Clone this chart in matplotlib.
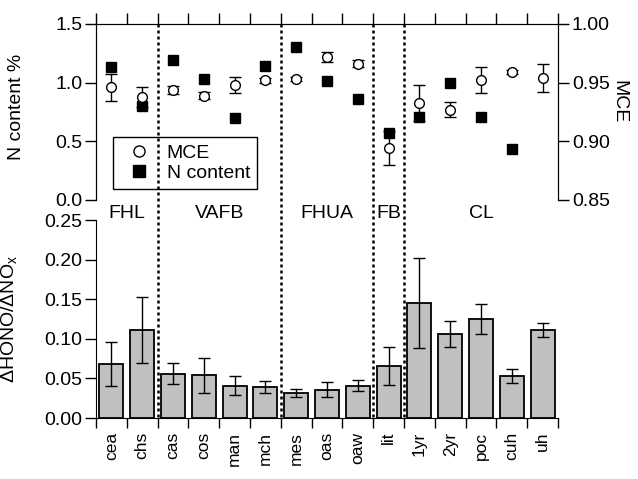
import numpy as np
import matplotlib
matplotlib.use("Agg")
import matplotlib.pyplot as plt
from matplotlib.lines import Line2D
from matplotlib import transforms

plt.rcParams['font.family'] = ['Liberation Sans', 'DejaVu Sans']
plt.rcParams['font.size'] = 14

# burn sites, grouped by location
sites = ['cea', 'chs', 'cas', 'cos', 'man', 'mch', 'mes', 'oas', 'oaw',
         'lit', '1yr', '2yr', 'poc', 'cuh', 'uh']
groups = ['FHL', 'VAFB', 'FHUA', 'FB', 'CL']
group_sizes = [2, 4, 3, 1, 5]

# fuel nitrogen content (%), no value for uh
n_content = [1.13, 0.80, 1.19, 1.03, 0.70, 1.14, 1.30, 1.01, 0.86,
             0.57, 0.71, 1.00, 0.71, 0.435, np.nan]

# modified combustion efficiency
mce = [0.946, 0.938, 0.944, 0.939, 0.948, 0.952, 0.953, 0.972, 0.966,
       0.894, 0.933, 0.927, 0.952, 0.959, 0.954]
mce_err = [0.0114, 0.0085, 0.0035, 0.003, 0.007, 0.002, 0.0015, 0.004, 0.003,
           0.0146, 0.0153, 0.0064, 0.011, 0.002, 0.012]

# HONO / NOx emission ratios
hono_ratio = [0.068, 0.111, 0.056, 0.054, 0.041, 0.039, 0.032, 0.036, 0.041,
              0.066, 0.145, 0.106, 0.125, 0.053, 0.111]
hono_err = [0.028, 0.042, 0.013, 0.022, 0.012, 0.008, 0.005, 0.010, 0.007,
            0.024, 0.057, 0.016, 0.019, 0.009, 0.009]

x = np.arange(len(sites))
bounds = np.arange(len(sites) + 1) - 0.5
group_edges = np.concatenate([[0], np.cumsum(group_sizes)]) - 0.5

fig = plt.figure(figsize=(6.38, 4.79), dpi=100)
ax_n = fig.add_axes([0.1505, 0.5825, 0.7241, 0.3674])
ax_mce = ax_n.twinx()
ax_bar = fig.add_axes([0.1505, 0.1273, 0.7241, 0.4134])

# --- top panel: N content and MCE ---
ax_n.plot(x, n_content, 's', color='black', ms=7, zorder=2)
ax_mce.errorbar(x, mce, yerr=mce_err, fmt='o', mfc='white', mec='black',
                mew=1, ms=7, ecolor='black', elinewidth=1, capsize=4,
                capthick=1, zorder=3)

ax_n.set_xlim(-0.5, len(sites) - 0.5)
ax_n.set_ylim(0, 1.5)
ax_n.set_yticks([0, 0.5, 1.0, 1.5])
ax_n.set_yticklabels(['%.1f' % v for v in [0, 0.5, 1.0, 1.5]])
ax_n.set_ylabel('N content %')
ax_mce.set_ylim(0.85, 1.0)
ax_mce.set_yticks([0.85, 0.90, 0.95, 1.00])
ax_mce.set_yticklabels(['%.2f' % v for v in [0.85, 0.90, 0.95, 1.00]])
ax_mce.set_ylabel('MCE', rotation=270)

for a in (ax_n, ax_mce):
    a.spines['bottom'].set_visible(False)
    a.set_xticks(bounds)
    a.xaxis.set_ticks_position('top')
    a.tick_params(axis='x', direction='out', length=8, width=1,
                  labeltop=False, labelbottom=False)
    a.tick_params(axis='y', direction='out', length=8, width=1, pad=2)

handles = [Line2D([], [], marker='o', ls='none', mfc='white', mec='black', ms=8),
           Line2D([], [], marker='s', ls='none', color='black', ms=8)]
leg = ax_mce.legend(handles, ['MCE', 'N content'], loc='lower left',
                    bbox_to_anchor=(0.037, 0.062), borderaxespad=0,
                    frameon=True, fancybox=False, framealpha=1,
                    edgecolor='black', borderpad=0.35, handletextpad=0.4,
                    labelspacing=0.15, fontsize=14)
leg.get_frame().set_linewidth(1)

# --- bottom panel: HONO/NOx ratios ---
ax_bar.bar(x, hono_ratio, width=0.78, color='#c0c0c0', edgecolor='black',
           linewidth=1.3, zorder=2)
ax_bar.errorbar(x, hono_ratio, yerr=hono_err, fmt='none', ecolor='black',
                elinewidth=1, capsize=4, capthick=1, zorder=3)
ax_bar.set_xlim(-0.5, len(sites) - 0.5)
ax_bar.set_ylim(0, 0.25)
ax_bar.set_yticks([0, 0.05, 0.10, 0.15, 0.20, 0.25])
ax_bar.set_yticklabels(['%.2f' % v for v in [0, 0.05, 0.10, 0.15, 0.20, 0.25]])
ax_bar.set_ylabel(r'ΔHONO/ΔNO$_\mathregular{x}$')
ax_bar.spines['top'].set_visible(False)
ax_bar.spines['right'].set_visible(False)
ax_bar.set_xticks(x)
ax_bar.set_xticklabels(sites, rotation=90, fontsize=12.5)
ax_bar.set_xticks(bounds, minor=True)
ax_bar.tick_params(axis='x', which='major', length=0, pad=10)
ax_bar.tick_params(axis='x', which='minor', direction='out', length=7, width=1)
ax_bar.tick_params(axis='y', direction='out', length=8, width=1, pad=2)

ax_n.yaxis.set_label_coords(-0.154, 0.53)
ax_mce.yaxis.set_label_coords(1.15, 0.56)
ax_bar.yaxis.set_label_coords(-0.165, 0.5)

# dotted group separators across both panels, group names in the gap
trans = transforms.blended_transform_factory(ax_bar.transData, fig.transFigure)
for edge in group_edges[1:-1]:
    fig.add_artist(Line2D([edge, edge], [0.9499, 0.1273], transform=trans,
                          color='black', lw=1.8, ls=(0, (1.2, 1.2)), zorder=5))
for name, lo, hi in zip(groups, group_edges[:-1], group_edges[1:]):
    fig.text((lo + hi) / 2, 0.5553, name, transform=trans,
             ha='center', va='center', fontsize=14)

fig.savefig('out.png', dpi=100)
